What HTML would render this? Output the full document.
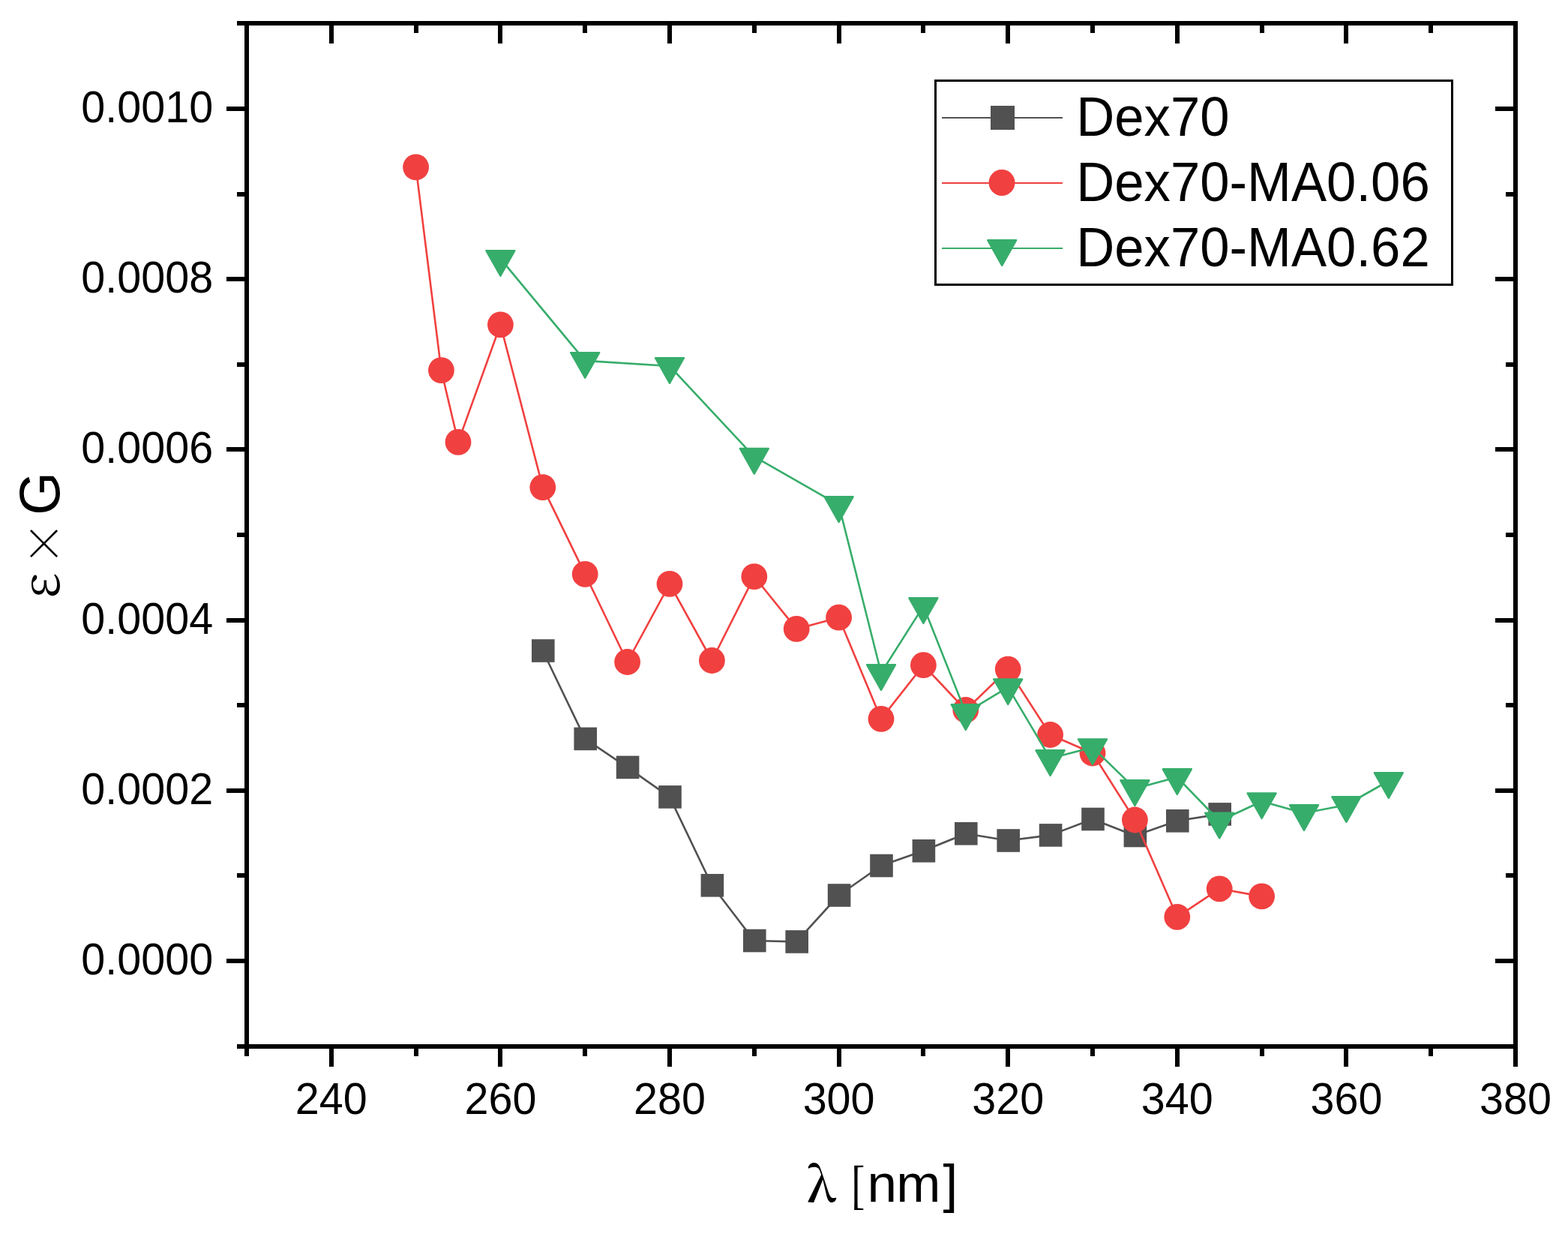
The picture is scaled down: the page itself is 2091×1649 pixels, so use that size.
<!DOCTYPE html>
<html><head><meta charset="utf-8"><style>
html,body{margin:0;padding:0;background:#fff;}
svg{display:block;}
text{font-family:"Liberation Sans",Arial,sans-serif;fill:#000;}
.cjk{font-family:"Noto Serif CJK SC",serif;}
</style></head><body>
<svg width="2091" height="1649" viewBox="0 0 2091 1649">
<rect width="2091" height="1649" fill="#fff"/>
<polyline fill="none" stroke-linejoin="round" stroke-width="2.6" stroke="#515151" points="723.8,867.5 780.2,984.9 836.6,1022.9 893,1062.4 949.4,1180.3 1005.8,1254 1062.2,1255.4 1118.6,1193.5 1175,1154 1231.4,1134.3 1287.8,1111.3 1344.2,1120.5 1400.6,1113.4 1457,1092 1513.4,1114 1569.8,1094.3 1626.2,1085.4"/>
<g fill="#515151"><rect x="709" y="852.2" width="30.6" height="30.6"/><rect x="765.4" y="969.6" width="30.6" height="30.6"/><rect x="821.8" y="1007.6" width="30.6" height="30.6"/><rect x="878.2" y="1047.1" width="30.6" height="30.6"/><rect x="934.6" y="1165" width="30.6" height="30.6"/><rect x="991" y="1238.7" width="30.6" height="30.6"/><rect x="1047.4" y="1240.1" width="30.6" height="30.6"/><rect x="1103.8" y="1178.2" width="30.6" height="30.6"/><rect x="1160.2" y="1138.7" width="30.6" height="30.6"/><rect x="1216.6" y="1119" width="30.6" height="30.6"/><rect x="1273" y="1096" width="30.6" height="30.6"/><rect x="1329.4" y="1105.2" width="30.6" height="30.6"/><rect x="1385.8" y="1098.1" width="30.6" height="30.6"/><rect x="1442.2" y="1076.7" width="30.6" height="30.6"/><rect x="1498.6" y="1098.7" width="30.6" height="30.6"/><rect x="1555" y="1079" width="30.6" height="30.6"/><rect x="1611.4" y="1070.1" width="30.6" height="30.6"/></g>
<polyline fill="none" stroke-linejoin="round" stroke-width="2.6" stroke="#F14040" points="554.6,222.9 588.44,493.6 611,589.4 667.4,432.8 723.8,649.6 780.2,765.3 836.6,882.5 893,778.3 949.4,880.5 1005.8,768.6 1062.2,838.4 1118.6,823.2 1175,958.4 1231.4,886.7 1287.8,946.5 1344.2,892.1 1400.6,979.5 1457,1004 1513.4,1093 1569.8,1222.3 1626.2,1184.8 1682.6,1194.9"/>
<g fill="#F14040"><circle cx="554.6" cy="222.9" r="17.4"/><circle cx="588.44" cy="493.6" r="17.4"/><circle cx="611" cy="589.4" r="17.4"/><circle cx="667.4" cy="432.8" r="17.4"/><circle cx="723.8" cy="649.6" r="17.4"/><circle cx="780.2" cy="765.3" r="17.4"/><circle cx="836.6" cy="882.5" r="17.4"/><circle cx="893" cy="778.3" r="17.4"/><circle cx="949.4" cy="880.5" r="17.4"/><circle cx="1005.8" cy="768.6" r="17.4"/><circle cx="1062.2" cy="838.4" r="17.4"/><circle cx="1118.6" cy="823.2" r="17.4"/><circle cx="1175" cy="958.4" r="17.4"/><circle cx="1231.4" cy="886.7" r="17.4"/><circle cx="1287.8" cy="946.5" r="17.4"/><circle cx="1344.2" cy="892.1" r="17.4"/><circle cx="1400.6" cy="979.5" r="17.4"/><circle cx="1457" cy="1004" r="17.4"/><circle cx="1513.4" cy="1093" r="17.4"/><circle cx="1569.8" cy="1222.3" r="17.4"/><circle cx="1626.2" cy="1184.8" r="17.4"/><circle cx="1682.6" cy="1194.9" r="17.4"/></g>
<polyline fill="none" stroke-linejoin="round" stroke-width="2.6" stroke="#37AD6B" points="667.4,344.9 780.2,480.9 893,488 1005.8,608.8 1118.6,673.1 1175,897 1231.4,808.1 1287.8,950.1 1344.2,916.2 1400.6,1011.1 1457,996.2 1513.4,1051.1 1569.8,1036.1 1626.2,1094.5 1682.6,1068.2 1739,1084 1795.4,1073 1851.8,1041"/>
<g fill="#37AD6B" stroke="#37AD6B" stroke-width="2.4" stroke-linejoin="round"><polygon points="648.4,334.1 686.4,334.1 667.4,367.7"/><polygon points="761.2,470.1 799.2,470.1 780.2,503.7"/><polygon points="874,477.2 912,477.2 893,510.8"/><polygon points="986.8,598 1024.8,598 1005.8,631.6"/><polygon points="1099.6,662.3 1137.6,662.3 1118.6,695.9"/><polygon points="1156,886.2 1194,886.2 1175,919.8"/><polygon points="1212.4,797.3 1250.4,797.3 1231.4,830.9"/><polygon points="1268.8,939.3 1306.8,939.3 1287.8,972.9"/><polygon points="1325.2,905.4 1363.2,905.4 1344.2,939"/><polygon points="1381.6,1000.3 1419.6,1000.3 1400.6,1033.9"/><polygon points="1438,985.4 1476,985.4 1457,1019"/><polygon points="1494.4,1040.3 1532.4,1040.3 1513.4,1073.9"/><polygon points="1550.8,1025.3 1588.8,1025.3 1569.8,1058.9"/><polygon points="1607.2,1083.7 1645.2,1083.7 1626.2,1117.3"/><polygon points="1663.6,1057.4 1701.6,1057.4 1682.6,1091"/><polygon points="1720,1073.2 1758,1073.2 1739,1106.8"/><polygon points="1776.4,1062.2 1814.4,1062.2 1795.4,1095.8"/><polygon points="1832.8,1030.2 1870.8,1030.2 1851.8,1063.8"/></g>
<g stroke="#000" stroke-width="6" fill="none">
<rect x="329.0" y="31.0" width="1692.0" height="1364.0"/>
<path d="M329 1395.0V1408M329 31.0V44M442 1395.0V1422M442 31.0V58M555 1395.0V1408M555 31.0V44M667 1395.0V1422M667 31.0V58M780 1395.0V1408M780 31.0V44M893 1395.0V1422M893 31.0V58M1006 1395.0V1408M1006 31.0V44M1119 1395.0V1422M1119 31.0V58M1231 1395.0V1408M1231 31.0V44M1344 1395.0V1422M1344 31.0V58M1457 1395.0V1408M1457 31.0V44M1570 1395.0V1422M1570 31.0V58M1683 1395.0V1408M1683 31.0V44M1795 1395.0V1422M1795 31.0V58M1908 1395.0V1408M1908 31.0V44M2021 1395.0V1422M2021 31.0V58M329.0 1395H316M2021.0 1395H2008M329.0 1281H302M2021.0 1281H1994M329.0 1167H316M2021.0 1167H2008M329.0 1054H302M2021.0 1054H1994M329.0 940H316M2021.0 940H2008M329.0 827H302M2021.0 827H1994M329.0 713H316M2021.0 713H2008M329.0 599H302M2021.0 599H1994M329.0 486H316M2021.0 486H2008M329.0 372H302M2021.0 372H1994M329.0 259H316M2021.0 259H2008M329.0 145H302M2021.0 145H1994M329.0 31H316M2021.0 31H2008"/>
</g>
<g font-size="57.5" text-anchor="middle"><text transform="translate(441.8,1485) scale(1,1.03)">240</text><text transform="translate(667.4,1485) scale(1,1.03)">260</text><text transform="translate(893,1485) scale(1,1.03)">280</text><text transform="translate(1118.6,1485) scale(1,1.03)">300</text><text transform="translate(1344.2,1485) scale(1,1.03)">320</text><text transform="translate(1569.8,1485) scale(1,1.03)">340</text><text transform="translate(1795.4,1485) scale(1,1.03)">360</text><text transform="translate(2021,1485) scale(1,1.03)">380</text></g>
<g font-size="57.5" text-anchor="end"><text transform="translate(284.2,1298.6) scale(1,1.03)">0.0000</text><text transform="translate(284.2,1071.6) scale(1,1.03)">0.0002</text><text transform="translate(284.2,844.6) scale(1,1.03)">0.0004</text><text transform="translate(284.2,616.6) scale(1,1.03)">0.0006</text><text transform="translate(284.2,389.6) scale(1,1.03)">0.0008</text><text transform="translate(284.2,162.6) scale(1,1.03)">0.0010</text></g>
<text y="1602"><tspan class="cjk" x="1076.1" font-size="64" font-weight="600">λ</tspan><tspan class="cjk" x="1132.4" font-size="62">[</tspan><tspan x="1156.4 1195.3 1257.4" font-size="71">nm]</tspan></text>
<g transform="translate(78.5,0) rotate(-90)">
<text y="0"><tspan class="cjk" x="-797.4" font-size="69">ε</tspan><tspan class="cjk" x="-754.7" y="2.2" font-size="60.5">×</tspan></text>
<text transform="translate(-686.8,0) scale(1,1.02)" font-size="74">G</text>
</g>
<rect x="1247.5" y="107.5" width="689" height="272" fill="#fff" stroke="#000" stroke-width="3"/>
<path d="M1256 157H1417" stroke="#515151" stroke-width="1.8"/>
<rect x="1321" y="141" width="32" height="32" fill="#515151"/>
<path d="M1256 244H1417" stroke="#F14040" stroke-width="1.8"/>
<circle cx="1336" cy="243.5" r="17.5" fill="#F14040"/>
<path d="M1256 331H1417" stroke="#37AD6B" stroke-width="1.8"/>
<polygon points="1317.2,320.2 1355.2,320.2 1336.2,353.8" fill="#37AD6B" stroke="#37AD6B" stroke-width="2.4" stroke-linejoin="round"/>
<g font-size="70.7"><text transform="translate(1435.2,181) scale(1,1.045)">Dex70</text><text transform="translate(1435.2,268) scale(1,1.045)">Dex70-MA0.06</text><text transform="translate(1435.2,355) scale(1,1.045)">Dex70-MA0.62</text></g>
</svg>
</body></html>
